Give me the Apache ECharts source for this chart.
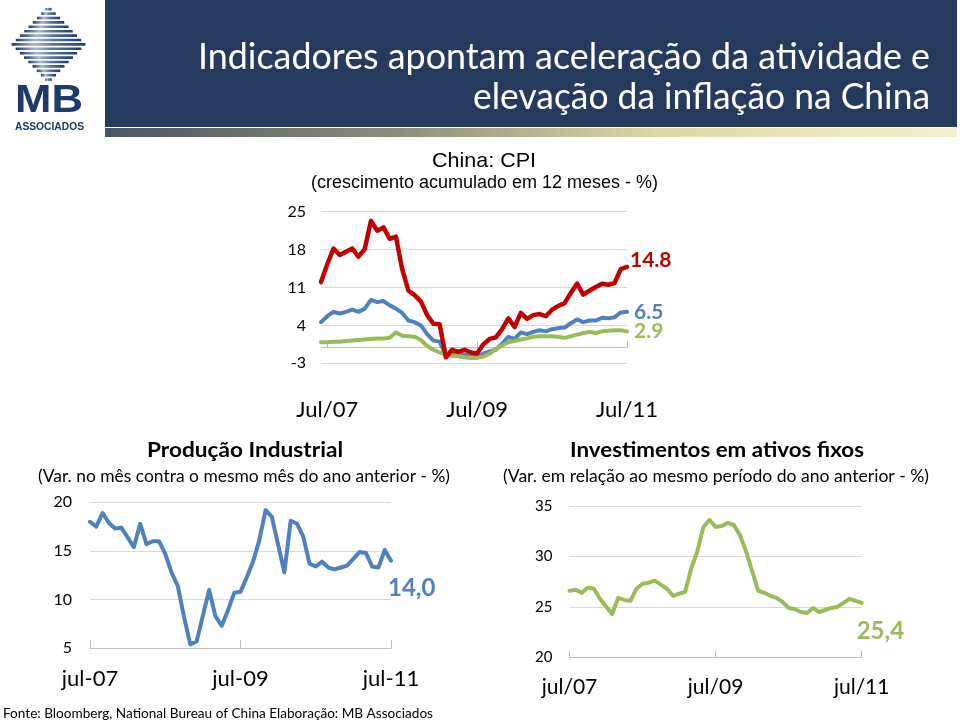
<!DOCTYPE html>
<html><head><meta charset="utf-8">
<script src="https://cdn.jsdelivr.net/npm/echarts@6/dist/echarts.min.js"></script>
<style>html,body{margin:0;padding:0;background:#fff}#c{width:960px;height:723px}</style>
</head><body><div id="c"></div>
<script>
// ---------- DATA ----------
const cpiCategories = ['Jun/07','Jul/07','Ago/07','Set/07','Out/07','Nov/07','Dez/07','Jan/08','Fev/08','Mar/08','Abr/08','Mai/08','Jun/08','Jul/08','Ago/08','Set/08','Out/08','Nov/08','Dez/08','Jan/09','Fev/09','Mar/09','Abr/09','Mai/09','Jun/09','Jul/09','Ago/09','Set/09','Out/09','Nov/09','Dez/09','Jan/10','Fev/10','Mar/10','Abr/10','Mai/10','Jun/10','Jul/10','Ago/10','Set/10','Out/10','Nov/10','Dez/10','Jan/11','Fev/11','Mar/11','Abr/11','Mai/11','Jun/11','Jul/11'];
const cpiTickLabels = ['Jul/07','Jul/09','Jul/11'];
const cpiFood = [12.0,15.3,18.2,17.0,17.6,18.2,16.7,18.1,23.3,21.5,22.1,20.0,20.4,14.4,10.4,9.6,8.4,5.9,4.3,4.2,-1.9,-0.5,-0.9,-0.5,-1.0,-1.2,0.5,1.5,1.8,3.3,5.3,3.7,6.3,5.2,5.9,6.1,5.7,6.9,7.6,8.1,10.0,11.7,9.7,10.4,11.1,11.7,11.5,11.8,14.4,14.8];
const cpiTotal = [4.6,5.7,6.5,6.2,6.5,6.9,6.5,7.1,8.7,8.3,8.5,7.7,7.1,6.3,4.9,4.6,4.0,2.4,1.2,1.0,-1.6,-1.2,-1.5,-1.4,-1.7,-1.8,-1.2,-0.8,-0.5,0.6,1.9,1.5,2.7,2.4,2.8,3.1,2.9,3.3,3.5,3.6,4.4,5.1,4.6,4.9,4.9,5.4,5.3,5.5,6.4,6.5];
const cpiNonFood = [0.9,0.9,1.0,1.0,1.1,1.2,1.3,1.4,1.5,1.6,1.6,1.7,2.7,2.1,2.0,1.9,1.3,0.2,-0.5,-1.0,-1.4,-1.6,-1.7,-1.9,-2.0,-2.0,-1.8,-1.2,-0.4,0.3,0.9,1.1,1.4,1.6,1.9,2.0,2.0,2.0,1.9,1.7,2.0,2.3,2.6,2.8,2.6,2.9,3.0,3.1,3.1,2.9];
const cpiYTicks = {min:-3, max:25, interval:7};

const ipCategories = ['jul-07','ago-07','set-07','out-07','nov-07','dez-07','jan-08','fev-08','mar-08','abr-08','mai-08','jun-08','jul-08','ago-08','set-08','out-08','nov-08','dez-08','jan-09','fev-09','mar-09','abr-09','mai-09','jun-09','jul-09','ago-09','set-09','out-09','nov-09','dez-09','jan-10','fev-10','mar-10','abr-10','mai-10','jun-10','jul-10','ago-10','set-10','out-10','nov-10','dez-10','jan-11','fev-11','mar-11','abr-11','mai-11','jun-11','jul-11'];
const ipTickLabels = ['jul-07','jul-09','jul-11'];
const ipValues = [18.0,17.5,18.9,17.9,17.3,17.4,null,15.4,17.8,15.7,16.0,16.0,14.7,12.8,11.4,8.2,5.4,5.7,null,11.0,8.3,7.3,8.9,10.7,10.8,12.3,13.9,16.1,19.2,18.5,null,12.8,18.1,17.8,16.5,13.7,13.4,13.9,13.3,13.1,13.3,13.5,null,14.9,14.8,13.4,13.3,15.1,14.0];
const ipYTicks = {min:5, max:20, interval:5};

const faiCategories = ['jul/07','ago/07','set/07','out/07','nov/07','dez/07','jan/08','fev/08','mar/08','abr/08','mai/08','jun/08','jul/08','ago/08','set/08','out/08','nov/08','dez/08','jan/09','fev/09','mar/09','abr/09','mai/09','jun/09','jul/09','ago/09','set/09','out/09','nov/09','dez/09','jan/10','fev/10','mar/10','abr/10','mai/10','jun/10','jul/10','ago/10','set/10','out/10','nov/10','dez/10','jan/11','fev/11','mar/11','abr/11','mai/11','jun/11','jul/11'];
const faiTickLabels = ['jul/07','jul/09','jul/11'];
const faiValues = [26.6,26.7,26.4,26.9,26.8,25.8,null,24.3,25.9,25.7,25.6,26.8,27.3,27.4,27.6,27.2,26.8,26.1,null,26.5,28.8,30.5,32.9,33.6,32.9,33.0,33.3,33.1,32.1,30.5,null,26.6,26.4,26.1,25.9,25.5,24.9,24.8,24.5,24.4,24.9,24.5,null,24.9,25.0,25.4,25.8,25.6,25.4];
const faiYTicks = {min:20, max:35, interval:5};

// ---------- STYLE ----------
const RED = '#c00000', BLUE = '#4f81bd', GREEN = '#9bbb59';
const GRIDC = '#d9d9d9', AXISC = '#bfbfbf';
const LATO = 'Lato';

const mctx = document.createElement('canvas').getContext('2d');
function fitText(text, left, cy, font, color, width) {
  mctx.font = font;
  const w = mctx.measureText(text).width;
  return { type:'text', x:left, y:cy, scaleX: width / w, silent:true, z:10,
    style:{ text:text, font:font, fill:color, align:'left', verticalAlign:'middle', textAlign:'left', textVerticalAlign:'middle' } };
}

function xAxisCfg(gi, cats, ticks, margin, fs, tickLen) {
  const fn = (i) => ticks.indexOf(cats[i]) >= 0;
  return { gridIndex:gi, type:'category', data:cats, boundaryGap:false,
    axisLine:{ onZero:true, lineStyle:{ color:AXISC, width:1 } },
    axisTick:{ show:true, inside:true, length:tickLen, interval:fn, lineStyle:{ color:AXISC } },
    axisLabel:{ interval:fn, margin:margin, fontSize:fs, fontFamily:LATO, color:'#000' },
    splitLine:{ show:false } };
}
function yAxisCfg(gi, t, margin, fs) {
  return { gridIndex:gi, type:'value', min:t.min, max:t.max, interval:t.interval,
    axisLine:{ show:false }, axisTick:{ show:false },
    axisLabel:{ margin:margin, fontSize:fs, fontFamily:LATO, color:'#000' },
    splitLine:{ show:true, lineStyle:{ color:GRIDC, width:1 } } };
}
function lineSeries(xi, data, color, width, label) {
  const s = { type:'line', xAxisIndex:xi, yAxisIndex:xi, data:data, showSymbol:false, symbol:'none',
    connectNulls:true, lineStyle:{ color:color, width:width, join:'round', cap:'round' }, itemStyle:{ color:color } };
  if (label) s.endLabel = Object.assign({ show:true, color:color, fontFamily:LATO, fontWeight:'bold' }, label);
  return s;
}

// ---------- GRAPHICS (header, logo, titles) ----------
const g = [];
g.push({ type:'rect', shape:{ x:105, y:0, width:852, height:127 }, style:{ fill:'#243b5e' }, silent:true });
g.push({ type:'rect', shape:{ x:105, y:128, width:852, height:9 }, silent:true,
  style:{ fill:new echarts.graphic.LinearGradient(0,0,1,0,[{offset:0,color:'#4a5462'},{offset:0.35,color:'#8f9078'},{offset:0.65,color:'#dcd9a6'},{offset:1,color:'#f4f2cc'}]) } });
// logo diamond stripes
(function(){
  const cx = 48.5, cy = 44.5, hw = 37, hh = 38.5;
  for (let k = 0; k < 17; k++) {
    const yc = 8 + k * 4.4 + 1.2;
    const w = 2 * hw * Math.max(0.04, 1 - Math.abs(yc - cy) / hh);
    g.push({ type:'rect', silent:true, shape:{ x:cx - w/2, y:yc - 1.3, width:w, height:2.6 },
      style:{ fill:new echarts.graphic.LinearGradient(0,0,1,0,[{offset:0,color:'#1d3b6e'},{offset:0.3,color:'#a9bbd6'},{offset:0.55,color:'#5a79a7'},{offset:1,color:'#1d3b6e'}]) } });
  }
})();
g.push(fitText('MB', 15, 102, 'bold 38px "Liberation Sans"', '#1e3a6d', 68));
g.push(fitText('ASSOCIADOS', 15, 127.5, 'bold 10px "Liberation Sans"', '#1e3a6d', 69));
g.push(fitText('Indicadores apontam aceleração da atividade e', 198, 57, '36px Lato', '#ffffff', 732));
g.push(fitText('elevação da inflação na China', 473, 97, '36px Lato', '#ffffff', 457));
g.push(fitText('China: CPI', 432, 161, '21px "Liberation Sans"', '#000', 104));
g.push(fitText('(crescimento acumulado em 12 meses - %)', 311, 183, '18px "Liberation Sans"', '#000', 347));
g.push(fitText('Produção Industrial', 147, 451, 'bold 20px Lato', '#000', 196));
g.push(fitText('(Var. no mês contra o mesmo mês do ano anterior - %)', 38, 476.5, '17px Lato', '#000', 412));
g.push(fitText('Investimentos em ativos fixos', 570, 451, 'bold 20px Lato', '#000', 294));
g.push(fitText('(Var. em relação ao mesmo período do ano anterior - %)', 503, 476.5, '17px Lato', '#000', 426));
g.push(fitText('Fonte: Bloomberg, National Bureau of China Elaboração: MB Associados', 3, 713.5, '14px Lato', '#000', 430));

const dot = v => v.toFixed(1);
const comma = v => v.toFixed(1).replace('.', ',');

const option = {
  animation:false,
  backgroundColor:'#fff',
  grid:[
    { left:321, top:211.7, width:306, height:151.6 },
    { left:90, top:502.3, width:301, height:146 },
    { left:569.5, top:505.8, width:292.2, height:151.7 }
  ],
  xAxis:[
    xAxisCfg(0, cpiCategories, cpiTickLabels, 36, 22, 6),
    xAxisCfg(1, ipCategories, ipTickLabels, 20, 22, 8),
    xAxisCfg(2, faiCategories, faiTickLabels, 19, 21, 7)
  ],
  yAxis:[
    yAxisCfg(0, cpiYTicks, 15, 16),
    yAxisCfg(1, ipYTicks, 18, 16),
    yAxisCfg(2, faiYTicks, 17, 15)
  ],
  series:[
    lineSeries(0, cpiTotal, BLUE, 4, { formatter:p => dot(p.value), fontSize:21, distance:7, offset:[0,0] }),
    lineSeries(0, cpiNonFood, GREEN, 4, { formatter:p => dot(p.value), fontSize:21, distance:7, offset:[0,0] }),
    lineSeries(0, cpiFood, RED, 4.5, { formatter:p => dot(p.value), fontSize:21, distance:3, offset:[0,-7] }),
    lineSeries(1, ipValues, BLUE, 4, { formatter:p => comma(p.value), fontSize:24, distance:0, offset:[-3,28] }),
    lineSeries(2, faiValues, GREEN, 4, { formatter:p => comma(p.value), fontSize:24, distance:0, offset:[-5,28] })
  ],
  graphic:{ elements:g }
};
const chart = echarts.init(document.getElementById('c'), null, { renderer:'canvas' });
chart.setOption(option);
</script></body></html>
